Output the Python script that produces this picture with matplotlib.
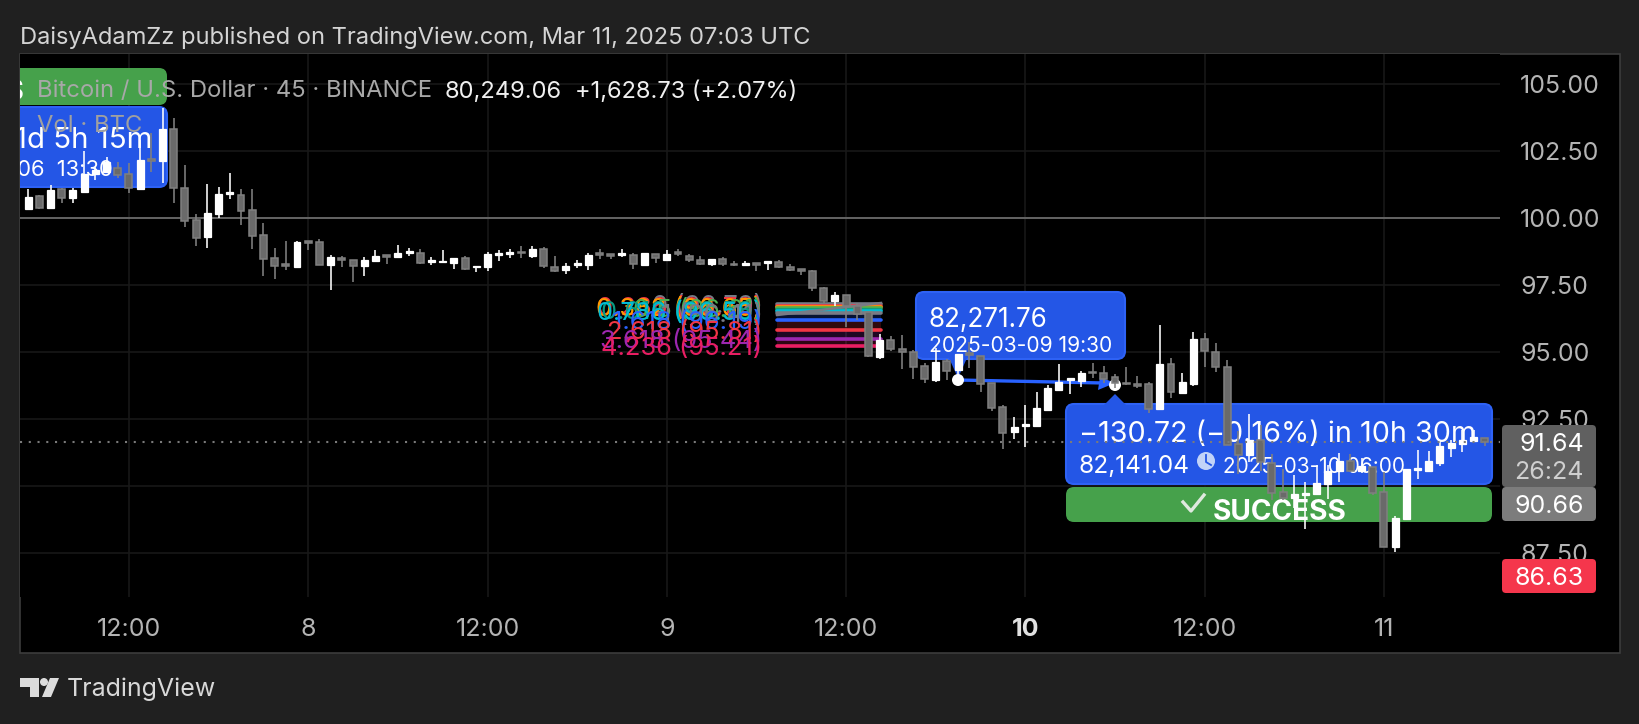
import matplotlib
matplotlib.use("Agg")
import matplotlib.pyplot as plt
import numpy as np
from matplotlib.patches import Circle, FancyBboxPatch, Polygon, Rectangle
from matplotlib.transforms import Affine2D

plt.rcParams["font.family"] = ["Inter", "DejaVu Sans"]

opens = [100.36, 100.83, 100.38, 101.09, 100.76, 100.98, 101.65, 101.74, 101.87, 101.65,
         101.09, 102.23, 102.14, 103.34, 101.13, 99.93, 99.30, 100.16, 100.91, 100.87,
         100.31, 99.37, 98.52, 98.29, 98.18, 99.15, 99.11, 98.25, 98.52, 98.44,
         98.22, 98.40, 98.63, 98.55, 98.70, 98.71, 98.36, 98.36, 98.33, 98.52,
         98.18, 98.18, 98.63, 98.67, 98.74, 98.59, 98.86, 98.18, 98.07, 98.26,
         98.26, 98.71, 98.67, 98.63, 98.63, 98.26, 98.67, 98.44, 98.74, 98.59,
         98.44, 98.30, 98.48, 98.30, 98.26, 98.33, 98.33, 98.37, 98.18, 98.11,
         98.03, 97.40, 96.91, 97.14, 96.72, 96.50, 94.82, 95.45, 95.12, 95.00,
         94.48, 93.96, 94.67, 94.33, 94.97, 94.86, 93.85, 92.95, 92.01, 92.24,
         92.24, 92.84, 93.58, 93.96, 93.92, 94.26, 94.22, 94.07, 93.85, 93.81,
         93.80, 92.87, 94.55, 93.47, 93.80, 95.49, 95.00, 94.44, 91.56, 91.15,
         91.71, 90.85, 89.77, 89.54, 89.65, 89.69, 90.07, 90.55, 90.93, 90.55,
         90.70, 89.77, 87.71, 88.76, 90.59, 90.55, 90.85, 91.41, 91.56, 91.67,
         91.79]
highs = [101.08, 100.86, 101.23, 101.13, 101.13, 102.51, 101.93, 102.28, 102.12, 102.05,
         102.93, 103.17, 104.11, 103.75, 101.99, 100.16, 101.28, 101.17, 101.69, 101.09,
         101.09, 99.82, 98.89, 99.15, 99.15, 99.15, 99.22, 98.63, 98.59, 98.44,
         98.55, 98.81, 98.63, 99.00, 98.89, 98.86, 98.56, 98.82, 98.52, 98.59,
         98.22, 98.74, 98.82, 98.86, 98.97, 98.97, 98.93, 98.59, 98.33, 98.44,
         98.71, 98.86, 98.67, 98.86, 98.71, 98.71, 98.67, 98.82, 98.86, 98.67,
         98.59, 98.48, 98.56, 98.41, 98.41, 98.33, 98.41, 98.44, 98.30, 98.11,
         98.07, 97.43, 97.25, 97.14, 96.82, 96.50, 95.68, 95.60, 95.64, 95.08,
         94.59, 95.15, 94.74, 94.93, 95.38, 94.86, 93.85, 93.02, 92.58, 93.02,
         93.51, 93.77, 94.56, 94.03, 94.29, 94.59, 94.48, 94.18, 94.44, 94.11,
         93.88, 96.01, 94.78, 94.22, 95.75, 95.71, 95.34, 94.70, 92.05, 92.68,
         92.27, 91.19, 90.63, 90.40, 90.14, 90.78, 90.78, 91.23, 91.19, 91.04,
         90.70, 90.51, 88.87, 90.63, 91.34, 91.30, 91.71, 91.71, 92.08, 92.08,
         91.79]
lows = [100.36, 100.35, 100.38, 100.57, 100.57, 100.98, 101.43, 101.68, 101.50, 100.94,
        101.09, 101.73, 101.32, 100.57, 99.67, 98.96, 98.89, 100.01, 100.72, 99.75,
        98.85, 97.84, 97.73, 98.07, 98.18, 98.81, 98.25, 97.32, 98.18, 97.62,
        97.84, 98.40, 98.29, 98.55, 98.59, 98.29, 98.27, 98.33, 98.11, 98.07,
        98.00, 98.03, 98.41, 98.52, 98.52, 98.52, 98.15, 98.00, 97.92, 98.15,
        98.07, 98.48, 98.48, 98.56, 98.11, 98.26, 98.33, 98.41, 98.59, 98.37,
        98.26, 98.22, 98.22, 98.22, 98.26, 98.03, 98.07, 98.15, 98.03, 97.88,
        97.29, 96.84, 96.72, 95.95, 96.20, 94.82, 94.74, 95.04, 94.37, 94.00,
        93.85, 93.88, 93.96, 94.15, 94.41, 93.51, 92.80, 91.38, 91.75, 91.45,
        92.24, 92.84, 93.58, 93.44, 93.70, 94.03, 93.85, 93.66, 93.77, 93.66,
        92.72, 92.87, 93.28, 93.43, 93.73, 94.44, 94.25, 91.52, 90.44, 90.89,
        90.55, 89.47, 89.47, 89.17, 88.38, 89.69, 89.51, 90.14, 90.51, 90.48,
        89.65, 87.71, 87.52, 88.76, 90.25, 90.51, 90.74, 91.08, 91.26, 91.64,
        91.49]
closes = [100.80, 100.38, 101.06, 100.76, 101.06, 101.65, 101.80, 102.12, 101.62, 101.12,
          102.18, 102.15, 103.34, 101.13, 99.90, 99.26, 100.20, 100.91, 100.98, 100.27,
          99.34, 98.48, 98.22, 98.22, 99.11, 99.08, 98.25, 98.55, 98.44, 98.22,
          98.44, 98.59, 98.55, 98.70, 98.78, 98.32, 98.43, 98.39, 98.52, 98.11,
          98.22, 98.67, 98.71, 98.74, 98.71, 98.86, 98.22, 98.03, 98.22, 98.33,
          98.63, 98.63, 98.59, 98.71, 98.30, 98.71, 98.52, 98.67, 98.67, 98.44,
          98.30, 98.48, 98.30, 98.26, 98.33, 98.26, 98.41, 98.18, 98.07, 98.03,
          97.40, 96.91, 97.14, 96.72, 96.43, 94.86, 95.45, 95.12, 95.00, 94.44,
          94.00, 94.63, 94.29, 94.93, 94.89, 93.81, 92.91, 91.98, 92.20, 92.31,
          92.91, 93.66, 93.88, 94.03, 94.22, 94.22, 94.00, 93.85, 93.81, 93.73,
          92.87, 94.55, 93.50, 93.88, 95.49, 95.04, 94.44, 91.52, 91.15, 91.71,
          90.89, 89.73, 89.54, 89.69, 89.73, 90.10, 90.55, 90.93, 90.55, 90.74,
          89.73, 87.71, 88.80, 90.63, 90.66, 90.93, 91.49, 91.60, 91.71, 91.82,
          91.64]

x_tick_bars = [9, 25, 41, 57, 73, 89, 105, 121]
x_tick_labels = ["12:00", "8", "12:00", "9", "12:00", "10", "12:00", "11"]
y_ticks = [87.5, 90, 92.5, 95, 97.5, 100, 102.5, 105]

fib_ratios = ["0", "0.236", "0.382", "0.5", "0.618", "0.786", "1", "1.618", "2.618", "3.618", "4.236"]
fib_levels = [96.81, 96.72, 96.67, 96.63, 96.58, 96.52, 96.44, 96.21, 95.84, 95.47, 95.24]
fib_prices = [96.79, 96.70, 96.65, 96.61, 96.58, 96.50, 96.41, 96.19, 95.81, 95.44, 95.21]
fib_colors = ["#787b86", "#f23645", "#ff9800", "#4caf50", "#089981", "#00bcd4", "#787b86",
              "#2962ff", "#f23645", "#9c27b0", "#e91e63"]

BLUE = "#2456e6"
GREEN = "#46a14b"
GRAY_FILL = "#6a6a6a"
GRAY_EDGE = "#808080"

W, H = 1640, 724
fig = plt.figure(figsize=(W / 100, H / 100), dpi=100, facecolor="#202020")
px = Affine2D().scale(1, -1).translate(0, H)  # reference pixels, y going down

fig.add_artist(Rectangle((20, 54), 1600, 599, transform=px, facecolor="black",
                         edgecolor="#3c3c3c", lw=1.2, zorder=-1))

ax = fig.add_axes([20 / W, (H - 597) / H, 1480 / W, 543 / H], facecolor="black")
ax.set_xlim(-0.723, 131.36)
ax.set_ylim(85.84, 106.14)
for s in ax.spines.values():
    s.set_visible(False)
ax.set_axisbelow(True)
ax.grid(True, color="#191919", lw=1.1)
ax.set_xticks(x_tick_bars, x_tick_labels)
ax.set_yticks(y_ticks, [f"{v:.2f}" for v in y_ticks])
ax.yaxis.tick_right()
ax.tick_params(length=0, labelsize=18, labelcolor="#b4b4b4")
ax.tick_params(axis="y", pad=14.5)
ax.tick_params(axis="x", pad=15)
ax.get_xticklabels()[5].set_fontweight("bold")
ax.get_xticklabels()[5].set_color("#e0e0e0")


def rbox(x0, y0, x1, y1, color, r=8, z=1.0, edge="none", clip=True):
    p = FancyBboxPatch((x0, y0), x1 - x0, y1 - y0, boxstyle=f"round,pad=0,rounding_size={r}",
                       facecolor=color, edgecolor=edge, lw=1.5, transform=px, zorder=z, clip_on=clip)
    ax.add_patch(p)


def label(x, y, s, size, color="white", ha="left", z=1.6, weight="normal", clip=True):
    ax.text(x, y, s, transform=px, fontsize=size * 0.72, color=color, ha=ha, va="center_baseline",
            zorder=z, fontweight=weight, clip_on=clip)


# older position tool, cut by the left edge
rbox(-10, 68, 167, 105, GREEN)
rbox(-10, 107, 167, 187, BLUE, edge="#2e62f5")
label(25, 90, "SUCCESS", 28, ha="right", weight="bold")
label(152, 138, "1d 5h 15m", 29.5, ha="right")
label(113, 168, "2025-03-06  13:30", 22, ha="right")

ax.axhline(100, color="#6a6a6a", lw=1.3, zorder=1.2)

# fib levels and their labels
x_fib = np.array([66.84, 76.1])
for i in range(len(fib_levels) - 1):
    ax.fill_between(x_fib, fib_levels[i + 1], fib_levels[i], color=fib_colors[i + 1], alpha=0.2, lw=0, zorder=1.1)
for lv, ratio, pr, c in zip(fib_levels, fib_ratios, fib_prices, fib_colors):
    ax.plot(x_fib, [lv, lv], color=c, lw=2.6, solid_capstyle="round", zorder=1.3)
    ax.text(66.84 - 1.3, lv, f"{ratio} ({pr:.2f})", color=c, ha="right", va="center_baseline",
            fontsize=25.5 * 0.72, zorder=1.3)
ax.plot([777, 881], [315, 303], transform=px, color="#787b86", lw=1.8, zorder=1.35)

# first price label with its pointer
rbox(916, 292, 1125, 359, BLUE, edge="#2e62f5")
ax.add_patch(Polygon([(949, 358), (958, 378), (967, 358)], transform=px, facecolor=BLUE, edgecolor="none", zorder=1.0))
label(929, 317, "82,271.76", 26)
label(929, 344, "2025-03-09 19:30", 21)

# second label, green bar
rbox(1066, 404, 1492, 484, BLUE, edge="#2e62f5")
ax.add_patch(Polygon([(1104, 405), (1115, 394), (1126, 405)], transform=px, facecolor=BLUE, edgecolor="none", zorder=1.0))
rbox(1066, 487, 1492, 522, GREEN)
label(1079, 432, "\u2212130.72 (\u22120.16%) in 10h 30m", 28.7)
label(1079, 464, "82,141.04", 24.5)
ax.add_patch(Circle((1206, 461), 9, transform=px, facecolor="#c2d3f8", edgecolor="none", zorder=1.5))
ax.plot([1206, 1206, 1211], [455, 462, 465], transform=px, color=BLUE, lw=1.3, zorder=1.55)
label(1223, 465, "2025-03-10 06:00", 20.8)
ax.plot([1183, 1191, 1204], [502, 511, 495], transform=px, color="#dfe9df", lw=2.4, zorder=1.5)
label(1213, 509, "SUCCESS", 28, weight="bold")

# arrow between the two labels
ax.plot([958, 1104], [380, 383], transform=px, color="#2962ff", lw=2.4, zorder=1.5)
ax.add_patch(Polygon([(1098, 390), (1115, 383), (1100, 377)], transform=px, facecolor="#2962ff", edgecolor="none", zorder=1.5))
ax.add_patch(Circle((958, 380), 6, transform=px, facecolor="white", edgecolor="none", zorder=1.5))
ax.add_patch(Circle((1115, 385), 6, transform=px, facecolor="white", edgecolor="none", zorder=1.5))

# candles
x = np.arange(len(opens))
o, h, l, c = map(np.array, (opens, highs, lows, closes))
up = c >= o
ax.vlines(x[up], l[up], h[up], color="white", lw=1.15, zorder=3)
ax.vlines(x[~up], l[~up], h[~up], color=GRAY_EDGE, lw=1.15, zorder=3)
ax.bar(x[up], (c - o)[up], bottom=o[up], width=0.62, color="white", edgecolor="white", lw=0.9, zorder=3.1)
ax.bar(x[~up], (o - c)[~up], bottom=c[~up], width=0.62, color=GRAY_FILL, edgecolor=GRAY_EDGE, lw=1.1, zorder=3.1)

ax.axhline(closes[-1], color="#7a7a7a", lw=1.5, ls=(0, (1, 3.2)), zorder=3.3)

# legend text over the chart
label(37, 89, "Bitcoin / U.S. Dollar \u00b7 45 \u00b7 BINANCE", 23.8, color="#a8a8a8", z=4)
label(445, 89, "80,249.06", 23.7, color="#f0f0f0", z=4)
label(575, 89, "+1,628.73 (+2.07%)", 23.6, color="#f0f0f0", z=4)
label(37, 123, "Vol \u00b7 BTC", 23.8, color="#a0a0a0", z=4)

# price tags on the right scale
rbox(1502, 425, 1596, 487, "#606060", r=4, z=5, clip=False)
rbox(1502, 487, 1596, 521, "#7c7c7c", r=4, z=5, clip=False)
rbox(1502, 559, 1596, 593, "#f5364c", r=4, z=5, clip=False)
label(1584, 442, "91.64", 25, ha="right", z=6, clip=False)
label(1584, 470, "26:24", 25, color="#cfcfcf", ha="right", z=6, clip=False)
label(1584, 504, "90.66", 25, ha="right", z=6, clip=False)
label(1584, 576, "86.63", 25, ha="right", z=6, clip=False)

# header and footer
fig.text(20, 35, "DaisyAdamZz published on TradingView.com, Mar 11, 2025 07:03 UTC", transform=px,
         fontsize=23.65 * 0.72, color="#d4d4d4", ha="left", va="center_baseline")
fig.text(67, 687, "TradingView", transform=px, fontsize=25 * 0.72, color="#d8d8d8", ha="left", va="center_baseline")
logo_shapes = [
    [(20, 678), (39, 678), (39, 697), (30, 697), (30, 687), (20, 687)],
    [(42, 697), (50, 678), (59, 678), (51, 697)],
]
for shape in logo_shapes:
    fig.add_artist(Polygon(shape, transform=px, facecolor="#dcdcdc", edgecolor="none"))
fig.add_artist(Circle((44, 682), 4, transform=px, facecolor="#dcdcdc", edgecolor="none"))

fig.savefig("out.png", dpi=100, facecolor=fig.get_facecolor())
